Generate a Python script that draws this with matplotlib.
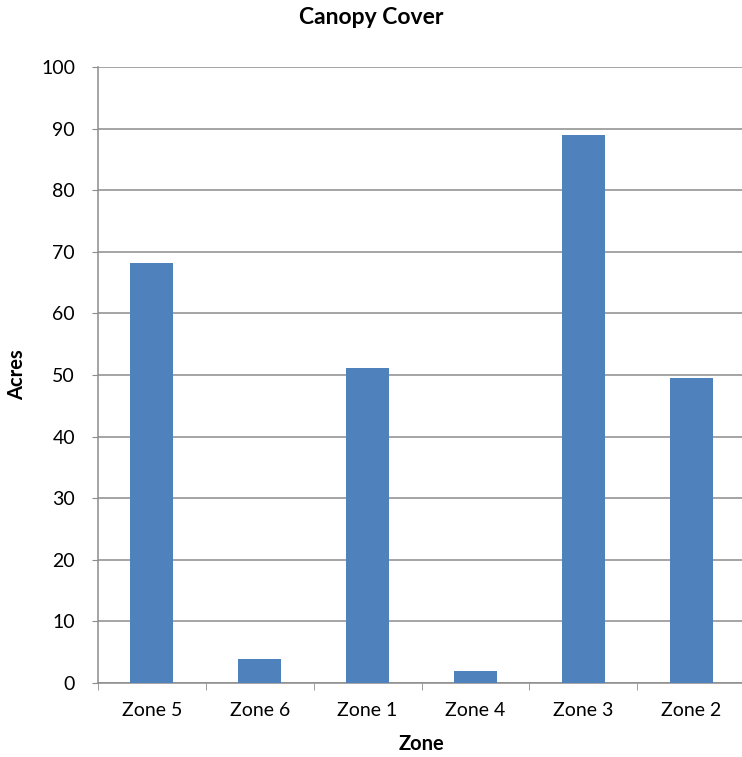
import numpy as np
import matplotlib
matplotlib.use('Agg')
import matplotlib.pyplot as plt

# データ
zones = ['Zone 5', 'Zone 6', 'Zone 1', 'Zone 4', 'Zone 3', 'Zone 2']
acres = [68.2, 3.9, 51.1, 1.9, 89.0, 49.5]

plt.rcParams['font.family'] = ['Lato', 'DejaVu Sans']

fig = plt.figure(figsize=(7.42, 7.57), dpi=100)
ax = fig.add_axes([98 / 742, 74 / 757, 647 / 742, 616 / 757])

x = np.arange(len(zones))
ax.bar(x, acres, width=0.4, color='#4F81BD', zorder=3)

# Y軸
ax.set_ylim(0, 100)
ax.set_yticks(np.arange(0, 101, 10))
ax.grid(which='major', axis='y', color='#8C8C8C', linewidth=1.1, zorder=0)
ax.tick_params(axis='y', length=4.5, color='#8C8C8C', pad=12, labelsize=14)
ax.set_ylabel('Acres', fontsize=14.5, fontweight='bold', va='center')
ax.yaxis.set_label_coords(-(98 - 17) / 647, 0.5)

# X軸
ax.set_xlim(-0.5, len(zones) - 0.5)
ax.set_xticks(x)
ax.set_xticklabels(zones)
ax.set_xticks(np.arange(-0.5, len(zones)), minor=True)
ax.tick_params(axis='x', which='major', length=0, pad=13.5, labelsize=14)
ax.tick_params(axis='x', which='minor', length=5, color='#8C8C8C')
ax.set_xlabel('Zone', fontsize=14.5, fontweight='bold', va='center')
ax.xaxis.set_label_coords(0.5, -(744 - 683) / 616)

for side in ['top', 'right']:
    ax.spines[side].set_visible(False)
for side in ['left', 'bottom']:
    ax.spines[side].set_color('#8C8C8C')
    ax.spines[side].set_linewidth(1.1)

fig.text(371 / 742, 1 - 18 / 757, 'Canopy Cover', ha='center', va='center',
         fontsize=16.5, fontweight='bold')

fig.savefig('out.png', dpi=100)
